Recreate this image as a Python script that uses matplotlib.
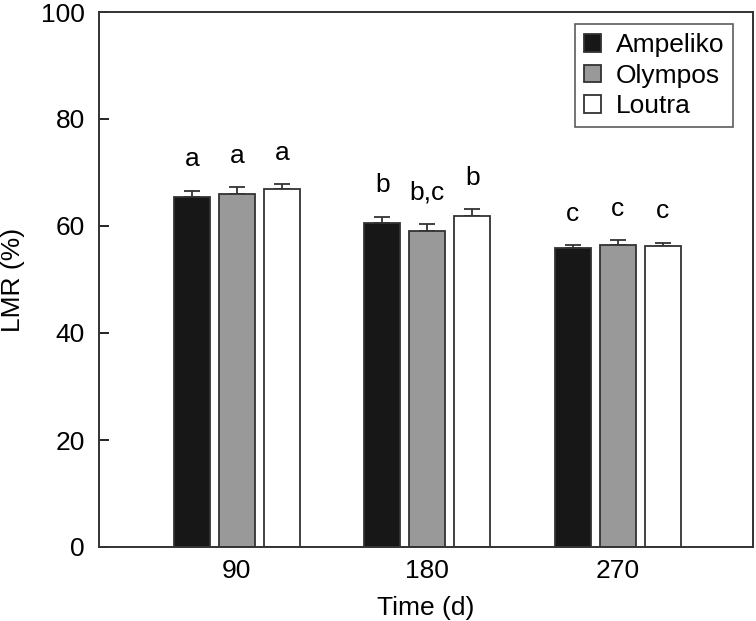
import numpy as np
import matplotlib
matplotlib.use("Agg")
import matplotlib.pyplot as plt

plt.rcParams["font.family"] = ["Liberation Sans", "DejaVu Sans"]

days = ["90", "180", "270"]
cultivars = ["Ampeliko", "Olympos", "Loutra"]
lmr = [
    [65.4, 60.6, 55.8],   # Ampeliko
    [66.0, 59.1, 56.5],   # Olympos
    [66.9, 61.8, 56.2],   # Loutra
]
err = [
    [1.2, 1.1, 0.6],
    [1.2, 1.2, 0.8],
    [0.9, 1.3, 0.7],
]
letters = [
    ["a", "b", "c"],
    ["a", "b,c", "c"],
    ["a", "b", "c"],
]
colors = ["#171717", "#999999", "white"]

fig = plt.figure(figsize=(7.56, 6.21), dpi=100)
ax = fig.add_axes([99 / 756, 1 - 547 / 621, 654 / 756, 535 / 621])

x = np.arange(len(days))
width = 0.189
step = 0.236
for i, name in enumerate(cultivars):
    pos = x + (i - 1) * step
    ax.bar(pos, lmr[i], width, color=colors[i], edgecolor="#333333",
           linewidth=1.3, label=name, zorder=2)
    ax.errorbar(pos, lmr[i], yerr=[np.zeros(3), err[i]], fmt="none",
                ecolor="#333333", elinewidth=1.3, capsize=6, capthick=1.3,
                zorder=1)
    for j in range(len(days)):
        ax.annotate(letters[i][j], (pos[j], lmr[i][j] + err[i][j]),
                    xytext=(0, 14), textcoords="offset points",
                    ha="center", va="bottom", fontsize=19)

ax.set_xlim(-0.724, 2.709)
ax.set_ylim(0, 100)
ax.set_xticks(x)
ax.set_xticklabels(days)
ax.set_yticks(range(0, 101, 20))
ax.tick_params(axis="y", direction="in", length=7, width=1.2, labelsize=19,
               pad=10)
ax.tick_params(axis="x", length=0, labelsize=19, pad=9)
for s in ax.spines.values():
    s.set_linewidth(1.4)
    s.set_color("#333333")

ax.set_xlabel("Time (d)", fontsize=19, labelpad=9)
ax.set_ylabel("LMR (%)", fontsize=19, labelpad=12)

leg = ax.legend(loc="upper right", fontsize=19, frameon=True, fancybox=False,
                edgecolor="#333333", handlelength=0.65, handleheight=0.65,
                handletextpad=0.55, borderpad=0.35, labelspacing=0.25,
                borderaxespad=0, bbox_to_anchor=(0.97, 0.978))
leg.get_frame().set_linewidth(1.2)

fig.savefig("out.png", dpi=100)
